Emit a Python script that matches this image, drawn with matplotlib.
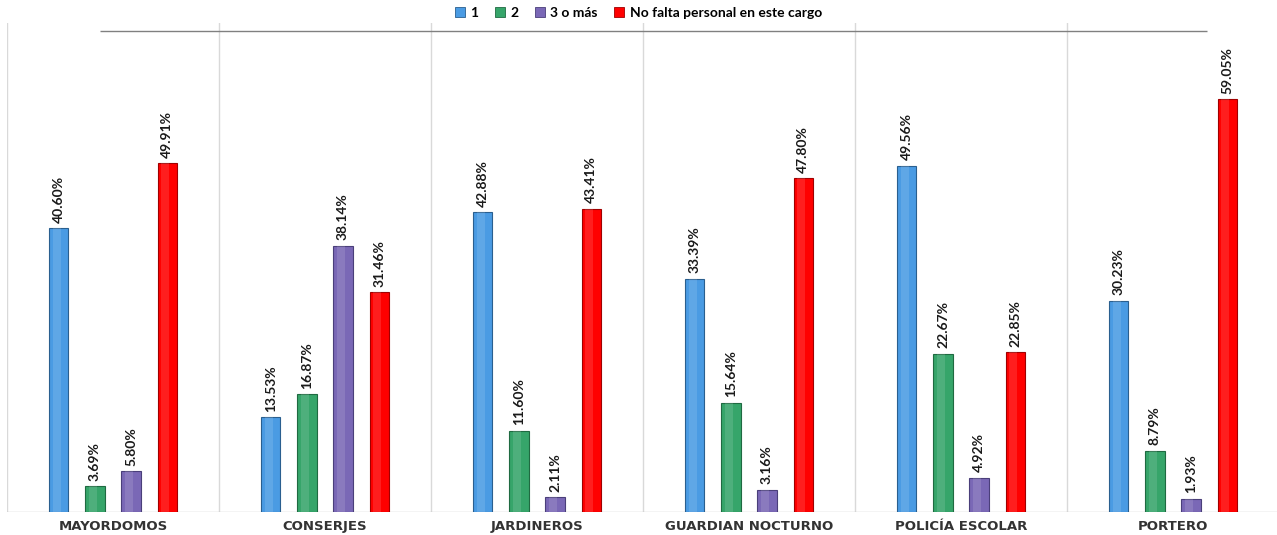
import numpy as np
import matplotlib
matplotlib.use('Agg')
import matplotlib.pyplot as plt
from matplotlib.patches import Patch

# data
categories = ['MAYORDOMOS', 'CONSERJES', 'JARDINEROS', 'GUARDIAN NOCTURNO', 'POLICÍA ESCOLAR', 'PORTERO']
series_names = ['1', '2', '3 o más', 'No falta personal en este cargo']
s_uno = [40.60, 13.53, 42.88, 33.39, 49.56, 30.23]
s_dos = [3.69, 16.87, 11.60, 15.64, 22.67, 8.79]
s_tres = [5.80, 38.14, 2.11, 3.16, 4.92, 1.93]
s_no_falta = [49.91, 31.46, 43.41, 47.80, 22.85, 59.05]

colors = ['#4a9be3', '#36a56a', '#7a68b6', '#ff0000']
edges = ['#2a5f8f', '#1f6a41', '#4a3f7a', '#a00000']

series = [s_uno, s_dos, s_tres, s_no_falta]

fig = plt.figure(figsize=(12.77, 5.35), dpi=100)
ax = fig.add_axes([7/1277, 23/535, 1272/1277, 489/535])

x = np.arange(len(categories))
bar_w = 0.09
step = 0.17
offsets = (np.arange(4) - 1.5) * step

for i, vals in enumerate(series):
	xs = x + offsets[i]
	ax.bar(xs, vals, width=bar_w, color=colors[i], edgecolor=edges[i], linewidth=0.8, zorder=3)
	# lighter strip for a cylinder look
	ax.bar(xs - bar_w*0.1, vals, width=bar_w*0.45, color='white', alpha=0.12, linewidth=0, zorder=4)
	for xi, v in zip(xs, vals):
		ax.annotate('%.2f%%' % v, (xi, v), xytext=(0, 4), textcoords='offset points',
			rotation=90, ha='center', va='bottom', fontsize=10, fontweight='bold',
			color='#1a1a1a', family='Lato')

# separators between groups
for s in np.arange(len(categories)) - 0.5:
	ax.axvline(s, color='#d9d9d9', linewidth=1, zorder=1)
ax.axhline(0, color='#c8c8c8', linewidth=1, zorder=2)
ax.hlines(68.9, -0.06, 5.16, color='#808080', linewidth=1, zorder=2)

ax.set_xlim(-0.5, 5.5)
ax.set_ylim(0, 70)
for sp in ax.spines.values():
	sp.set_visible(False)
ax.set_yticks([])
ax.set_xticks(x)
ax.set_xticklabels(categories, fontsize=9.5, fontweight='bold', color='#333333', family='DejaVu Sans')
ax.tick_params(axis='x', length=0, pad=6)

handles = [Patch(facecolor=c, edgecolor=e, linewidth=0.6) for c, e in zip(colors, edges)]
leg = fig.legend(handles, series_names, loc='upper center', bbox_to_anchor=(0.5, 1.01), ncol=4,
	frameon=False, handlelength=0.7, handleheight=0.7, handletextpad=0.4, columnspacing=1.2,
	prop={'family': 'Lato', 'weight': 'bold', 'size': 10})

fig.savefig('out.png', dpi=100)
